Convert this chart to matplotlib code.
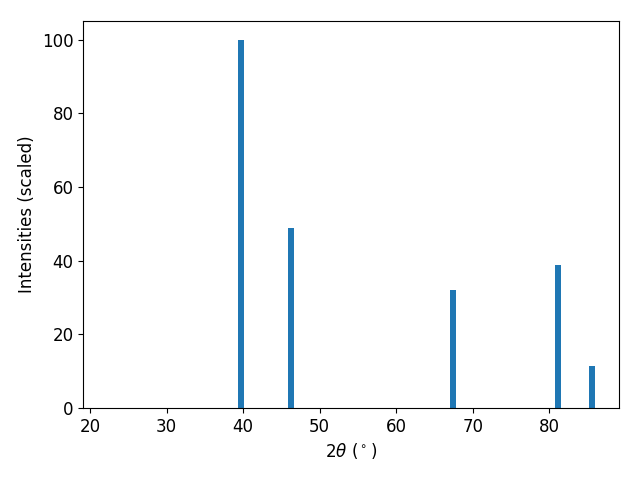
import matplotlib
matplotlib.use("Agg")
import matplotlib.pyplot as plt

# peak positions (2theta) and scaled intensities
two_theta = [39.7, 46.2, 67.4, 81.2, 85.6]
intensity = [100, 48.9, 32.1, 38.9, 11.4]

plt.rcParams['font.size'] = 12

fig, ax = plt.subplots(figsize=(6.4, 4.8), dpi=100)
ax.bar(two_theta, intensity, width=0.8, color='tab:blue')
ax.set_xlim(19.1, 89.1)
ax.set_xlabel(r'$2\theta$ ($^\circ$)')
ax.set_ylabel('Intensities (scaled)')
fig.subplots_adjust(left=0.13, right=0.967, top=0.956, bottom=0.15)
fig.savefig('out.png')
